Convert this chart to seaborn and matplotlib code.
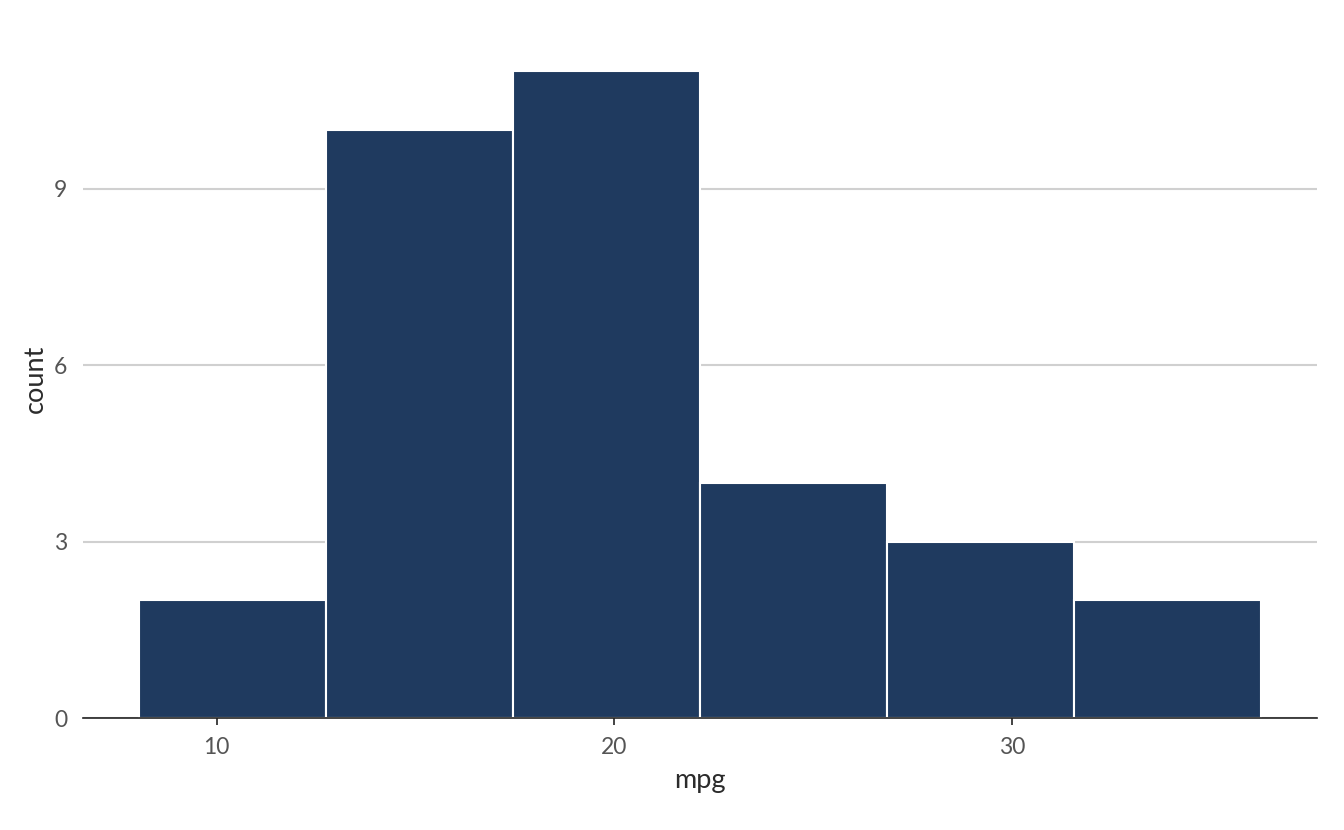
import matplotlib
matplotlib.use("Agg")
import matplotlib.pyplot as plt
import seaborn as sns
import pandas as pd

# mtcars mpg values
mpg = [21.0, 21.0, 22.8, 21.4, 18.7, 18.1, 14.3, 24.4, 22.8, 19.2, 17.8, 16.4,
       17.3, 15.2, 10.4, 10.4, 14.7, 32.4, 30.4, 33.9, 21.5, 15.5, 15.2, 13.3,
       19.2, 27.3, 26.0, 30.4, 15.8, 19.7, 15.0, 21.4]
x_ticks = [10, 20, 30]
y_ticks = [0, 3, 6, 9]
n_bins = 6

df = pd.DataFrame({"mpg": mpg})

sns.set_theme(style="white")
plt.rcParams["font.family"] = ["Lato", "DejaVu Sans"]

fig = plt.figure(figsize=(13.44, 8.3), dpi=100)
ax = fig.add_axes([83 / 1344, 112 / 830, (1317 - 83) / 1344, (718 - 39) / 830])

lo, hi = min(mpg), max(mpg)
bw = (hi - lo) / (n_bins - 1)
sns.histplot(data=df, x="mpg", binwidth=bw, binrange=(lo - bw / 2, hi + bw / 2),
             color="#1f3a5f", edgecolor="white", linewidth=1.5, alpha=1, ax=ax)

start = lo - bw / 2
end = hi + bw / 2
pad = (end - start) * 0.05
ax.set_xlim(start - pad, end + pad)
ax.set_ylim(0, 11 * 1.05)
ax.set_xticks(x_ticks)
ax.set_yticks(y_ticks)
ax.set_axisbelow(True)
ax.yaxis.grid(True, color="#d0d0d0", linewidth=1.5)
ax.xaxis.grid(False)
for s in ["top", "right", "left"]:
    ax.spines[s].set_visible(False)
ax.spines["bottom"].set_color("#222222")
ax.spines["bottom"].set_linewidth(1.2)
ax.tick_params(axis="x", bottom=True, length=5, width=1.2, color="#222222",
               labelsize=16.5, labelcolor="#555555", pad=9)
ax.tick_params(axis="y", left=False, length=0, labelsize=16.5, labelcolor="#555555", pad=11.5)
ax.set_xlabel("mpg", fontsize=19.5, color="#2b2b2b", labelpad=7)
ax.set_ylabel("count", fontsize=19.5, color="#2b2b2b", labelpad=4)

fig.savefig("out.png", dpi=100, facecolor="white")
